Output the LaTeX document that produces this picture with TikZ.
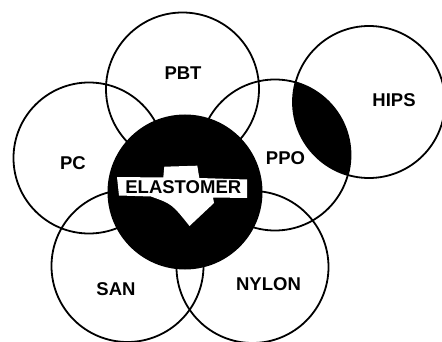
\documentclass[tikz,border=0pt]{standalone}
\usepackage{fontspec}
\setmainfont{Liberation Sans}
\begin{document}
\begin{tikzpicture}[x=1pt,y=-1pt,
  ring/.style={draw=black,line width=1.8pt},
  polylabel/.style={font=\fontsize{18.5}{20}\selectfont\bfseries,inner sep=0pt}]
\useasboundingbox (0,0) rectangle (442,342);
% circle centres
\coordinate (cpbt) at (182.5,89);
\coordinate (cpc) at (89,158);
\coordinate (cppo) at (275,155);
\coordinate (chips) at (369,102);
\coordinate (csan) at (127.5,266);
\coordinate (cnyl) at (252.5,267);
\coordinate (cela) at (185,192);
% outlines
\draw[ring] (cpbt) circle[radius=76.5pt];
\draw[ring] (cpc) circle[radius=75.5pt];
\draw[ring] (cppo) circle[radius=75.5pt];
\draw[ring] (chips) circle[radius=76pt];
\draw[ring] (csan) circle[radius=76pt];
\draw[ring] (cnyl) circle[radius=76pt];
% PPO / HIPS overlap
\begin{scope}
  \clip (cppo) circle[radius=75.5pt];
  \fill[black] (chips) circle[radius=76pt];
\end{scope}
% elastomer disc
\fill[black] (cela) circle[radius=77.5pt];
% white cut-out behind the label
\fill[white] (117,177) -- (163.3,177.5) -- (164.3,166.7) -- (197.3,165.7)
  -- (199.3,178) -- (247,179.5) -- (247,198) -- (213,197.5) -- (214,203)
  -- (189.5,226) .. controls (172,204) .. (151,196.5) -- (119,195.5) -- cycle;
% labels
\node[polylabel] (lpbt) at (183,73) {PBT};
\node[polylabel] (lpc) at (73,163.5) {PC};
\node[polylabel] (lppo) at (285.5,158) {PPO};
\node[polylabel] (lhips) at (394,100) {HIPS};
\node[polylabel] (lsan) at (116,289) {SAN};
\node[polylabel] (lnyl) at (268.5,284) {NYLON};
\node[polylabel] (lela) at (183.3,187.3) {ELASTOMER};
\end{tikzpicture}
\end{document}
